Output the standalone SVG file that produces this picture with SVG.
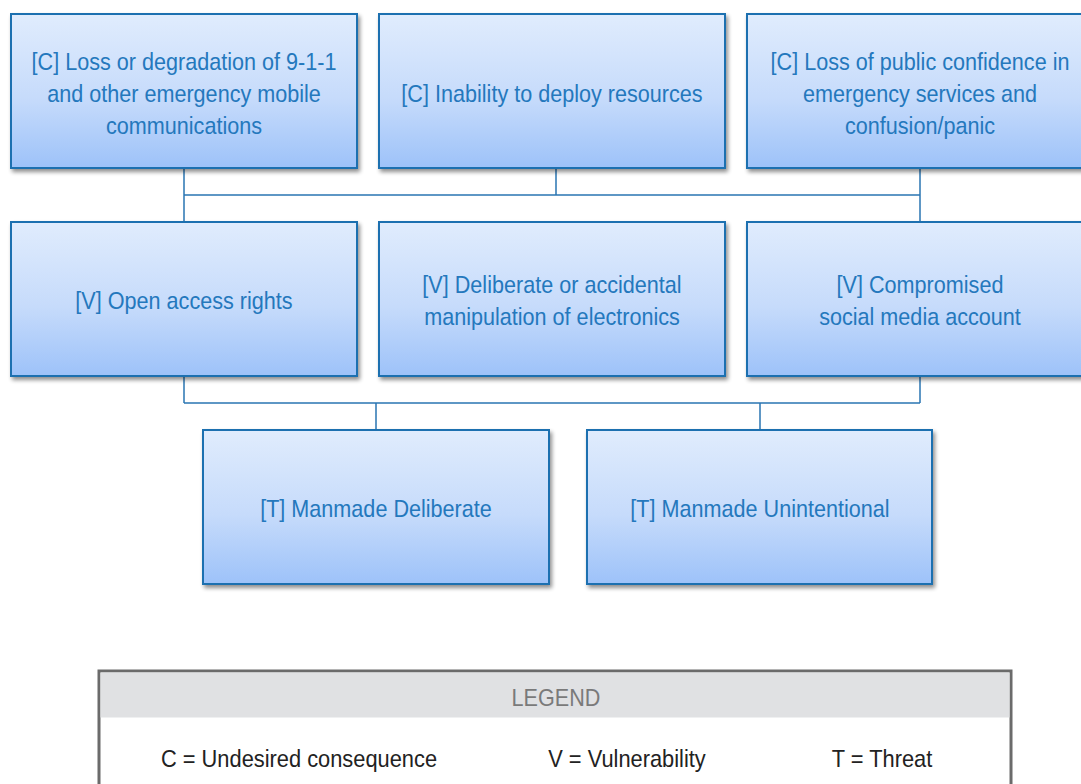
<svg xmlns="http://www.w3.org/2000/svg" width="1081" height="784" viewBox="0 0 1081 784">
<defs>
<linearGradient id="g" x1="0" y1="0" x2="0" y2="1">
<stop offset="0" stop-color="#e0ecfd"/>
<stop offset="0.55" stop-color="#c6dbfb"/>
<stop offset="1" stop-color="#9dc2f9"/>
</linearGradient>
<filter id="sh" x="-10%" y="-10%" width="125%" height="130%">
<feGaussianBlur in="SourceAlpha" stdDeviation="2"/>
<feOffset dx="2" dy="3" result="b"/>
<feComponentTransfer><feFuncA type="linear" slope="0.45"/></feComponentTransfer>
<feMerge><feMergeNode/><feMergeNode in="SourceGraphic"/></feMerge>
</filter>
</defs>
<style>
.box{fill:url(#g);stroke:#1a6fb0;stroke-width:2;filter:url(#sh)}
.t{font-family:"Liberation Sans",Arial,sans-serif;font-size:24px;fill:#2478bd;text-anchor:middle}
.c{stroke:#2a75b3;stroke-width:1.5;fill:none}
.lg{font-family:"Liberation Sans",Arial,sans-serif;font-size:24px;fill:#222;text-anchor:middle}
</style>
<rect width="1081" height="784" fill="#fff"/>
<g id="connectors">
<path class="c" d="M184 168V222M920 168V222M556 168V195M184 195H920"/>
<path class="c" d="M184 376V403M920 376V403M184 403H920M376 403V430M760 403V430"/>
</g>
<g id="c1"><rect class="box" x="11" y="14" width="346" height="154"/>
<text class="t" transform="translate(184 70) scale(0.9 1)">[C] Loss or degradation of 9-1-1</text>
<text class="t" transform="translate(184 102) scale(0.9 1)">and other emergency mobile</text>
<text class="t" transform="translate(184 134) scale(0.9 1)">communications</text></g>
<g id="c2"><rect class="box" x="379" y="14" width="346" height="154"/>
<text class="t" transform="translate(552 102) scale(0.9 1)">[C] Inability to deploy resources</text></g>
<g id="c3"><rect class="box" x="747" y="14" width="346" height="154"/>
<text class="t" transform="translate(920 70) scale(0.9 1)">[C] Loss of public confidence in</text>
<text class="t" transform="translate(920 102) scale(0.9 1)">emergency services and</text>
<text class="t" transform="translate(920 134) scale(0.9 1)">confusion/panic</text></g>
<g id="v1"><rect class="box" x="11" y="222" width="346" height="154"/>
<text class="t" transform="translate(184 309) scale(0.9 1)">[V] Open access rights</text></g>
<g id="v2"><rect class="box" x="379" y="222" width="346" height="154"/>
<text class="t" transform="translate(552 293) scale(0.9 1)">[V] Deliberate or accidental</text>
<text class="t" transform="translate(552 325) scale(0.9 1)">manipulation of electronics</text></g>
<g id="v3"><rect class="box" x="747" y="222" width="346" height="154"/>
<text class="t" transform="translate(920 293) scale(0.9 1)">[V] Compromised</text>
<text class="t" transform="translate(920 325) scale(0.9 1)">social media account</text></g>
<g id="t1"><rect class="box" x="203" y="430" width="346" height="154"/>
<text class="t" transform="translate(376 517) scale(0.9 1)">[T] Manmade Deliberate</text></g>
<g id="t2"><rect class="box" x="587" y="430" width="345" height="154"/>
<text class="t" transform="translate(760 517) scale(0.9 1)">[T] Manmade Unintentional</text></g>
<g id="legend">
<rect x="99" y="671" width="912" height="120" fill="#fff" stroke="#6b6b6b" stroke-width="3"/>
<rect x="100.5" y="672.5" width="909" height="45" fill="#e0e1e3"/>
<text class="lg" transform="translate(556 706) scale(0.9 1)" style="fill:#7a7a7a">LEGEND</text>
<text class="lg" transform="translate(299 767) scale(0.91 1)">C = Undesired consequence</text>
<text class="lg" transform="translate(627 767) scale(0.91 1)">V = Vulnerability</text>
<text class="lg" transform="translate(882 767) scale(0.91 1)">T = Threat</text>
</g>
</svg>
